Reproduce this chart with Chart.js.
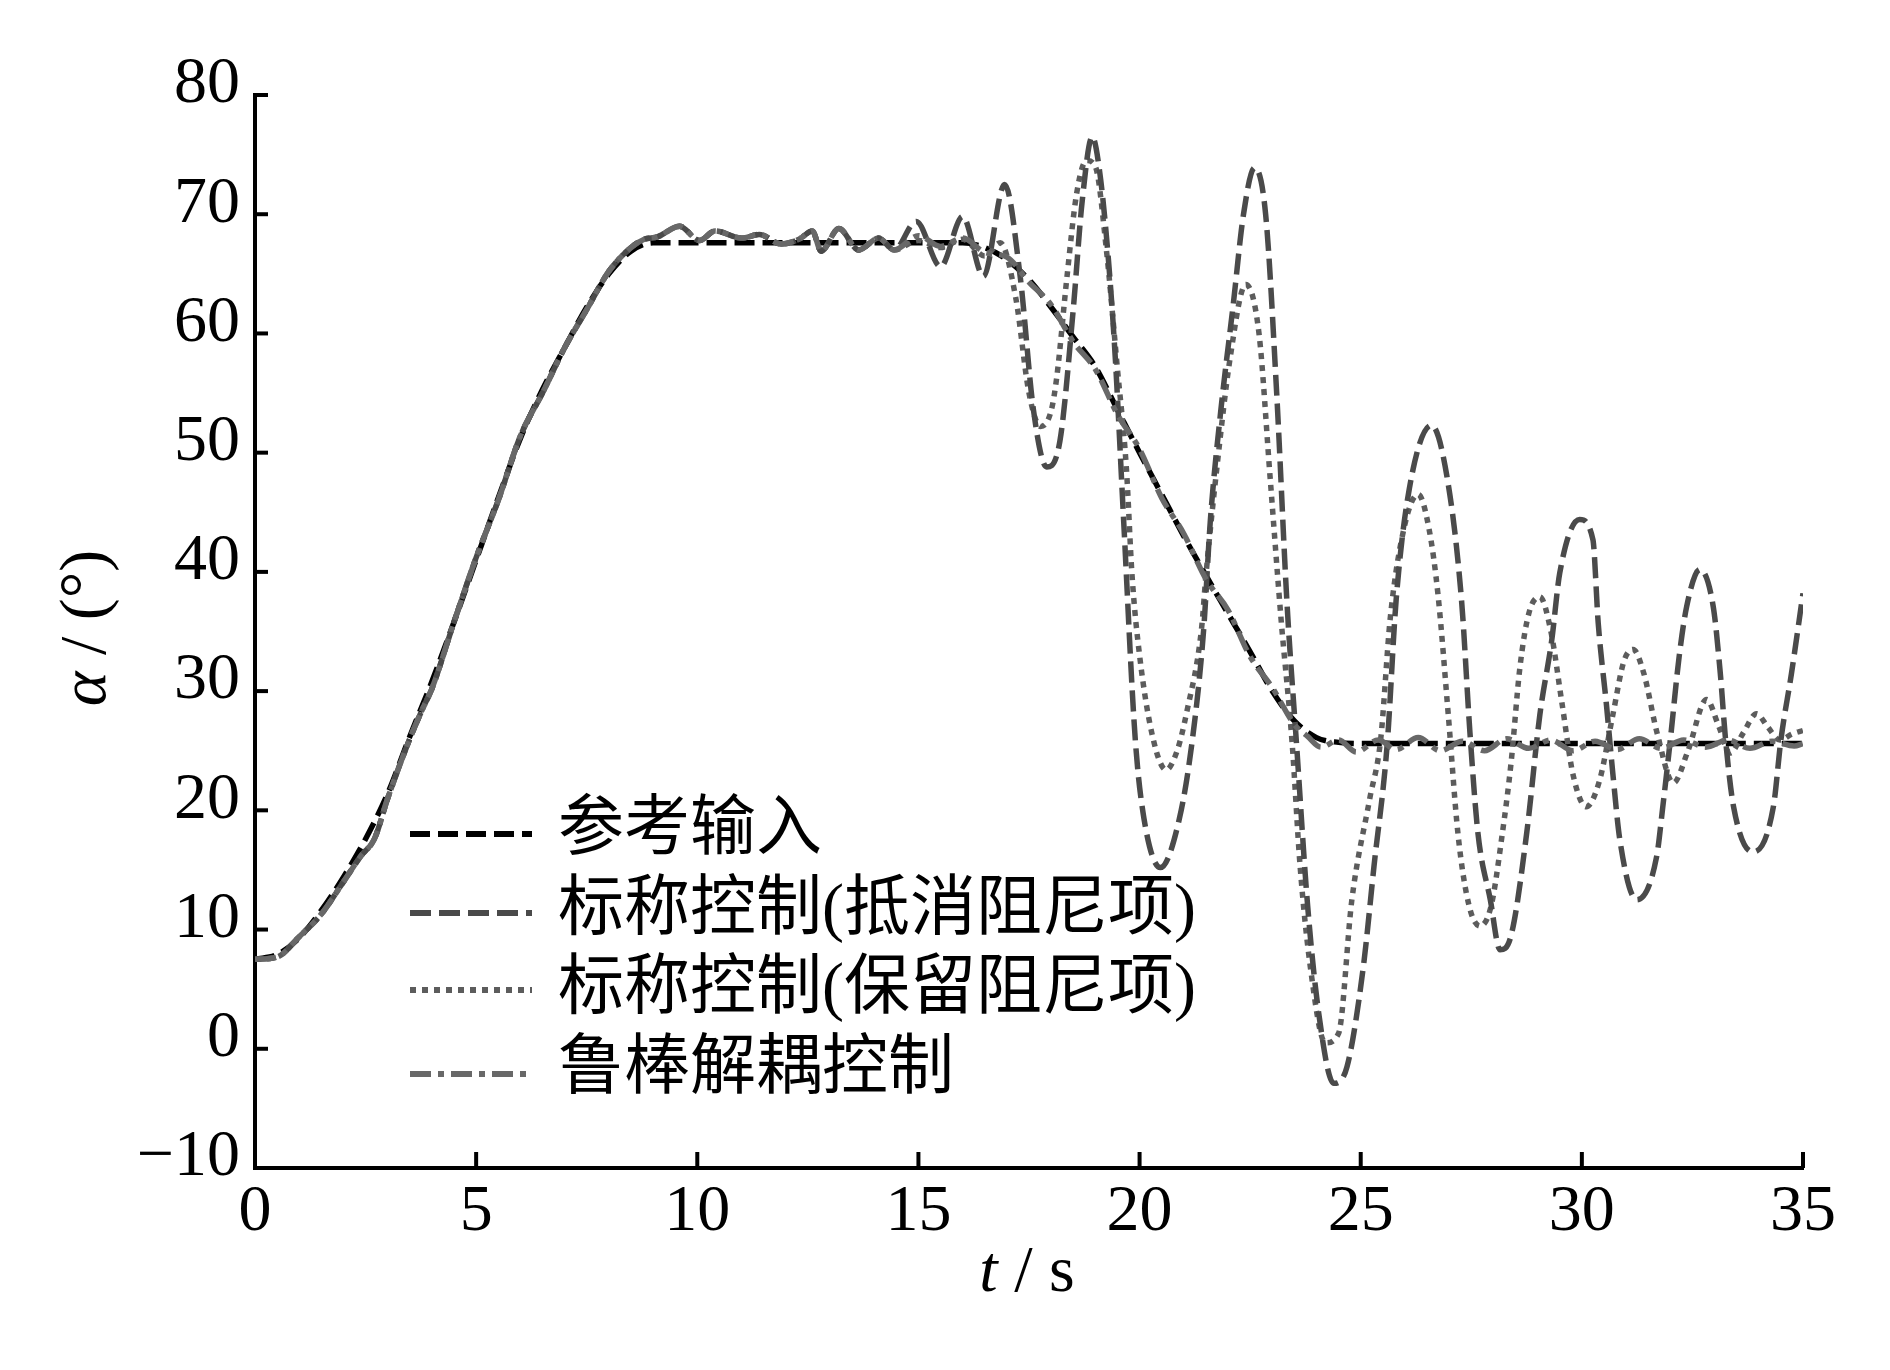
<!DOCTYPE html>
<html>
<head>
<meta charset="utf-8">
<script src="https://cdn.jsdelivr.net/npm/chart.js@4.4.1/dist/chart.umd.min.js"></script>
<style>
  html, body { margin: 0; padding: 0; background: #fff; }
  #wrap { width: 1890px; height: 1370px; }
</style>
</head>
<body>
<div id="wrap"><canvas id="alphaChart" width="1890" height="1370"></canvas></div>
<script>
// --- Data ---
const seriesNames = ['参考输入', '标称控制(抵消阻尼项)', '标称控制(保留阻尼项)', '鲁棒解耦控制'];
const xTickVals = [0, 5, 10, 15, 20, 25, 30, 35];
const yTickVals = [-10, 0, 10, 20, 30, 40, 50, 60, 70, 80];

// reference input
const tRef = [0,0.5,1,1.5,2,2.5,3,3.5,4,4.5,5,5.5,6,6.5,7,7.5,8,8.5,9,16,16.5,17,17.5,18,18.5,19,19.5,20,20.5,21,21.5,22,22.5,23,23.5,24,24.5,25,35];
const refVals = [7.5,7.9,9.3,11.6,14.4,17.6,21.4,26.2,30.8,35.8,41,46.2,51.2,55.3,58.8,62.2,65,66.9,67.6,67.6,67.2,66.2,64.5,62.2,59.7,57.2,53.6,50,46.5,43,39.7,36.5,33.3,30,27.5,26.1,25.7,25.6,25.6];

// the three responses overlap until ~14.5 s
const tShared = [0,0.5,1,1.5,2,2.4,2.7,3,3.5,3.8,4,4.5,5,5.5,6,6.5,7,7.5,8,8.5,8.8,9.1,9.6,10.05,10.4,11,11.4,11.9,12.3,12.6,12.8,13.2,13.65,14.1,14.45];
const sharedVals = [7.5,7.7,9.4,11.3,14,16.2,17.6,21,26,28.6,30.2,35.8,41.2,46,51.4,55,58.8,62,65.2,67.2,67.9,68.1,69,67.8,68.6,68,68.3,67.5,67.9,68.6,66.9,68.8,67,68,67];

// nominal control, damping cancelled
const tCancel = [14.95,15.5,16.0,16.47,16.95,17.3,17.6,17.9,18.2,18.5,18.7,18.93,19.1,19.3,19.45,19.64,19.9,20.1,20.47,20.9,21.2,21.45,21.6,21.83,22.12,22.35,22.6,22.85,23.1,23.33,23.55,23.8,24.05,24.39,24.69,25.06,25.3,25.6,25.8,26.1,26.6,26.95,27.28,27.47,27.65,27.93,28.15,28.4,28.75,29.05,29.32,29.5,29.95,30.25,30.37,30.56,30.7,30.86,31.24,31.69,31.83,32.0,32.2,32.37,32.67,32.97,33.13,33.25,33.43,33.87,34.33,34.5,34.74,35];
const cancelVals = [69.4,65.6,69.8,64.8,72.5,64.8,53.6,48.8,51,62,71,76.5,73.5,66,58,44.3,26.1,19.3,15.2,19.3,26.1,35.2,44.3,53.3,62.5,70,73.9,70,55,37.6,25.5,12,3,-2.9,-1.5,6.9,15.3,25.6,37.6,47,52.3,48,37.6,26.5,18.1,12.5,8.3,9.5,18,28,34.3,39.9,44.4,42.7,35.7,28.7,23.1,17.5,12.5,16.1,20.3,25.9,32.9,37.1,40.2,37.1,31.5,25.9,20.3,16.5,20.3,25.9,31.5,38.2];

// nominal control, damping kept
const tKeep = [15.0,15.5,16.0,16.5,16.85,17.2,17.5,17.76,18.0,18.13,18.36,18.58,18.8,19.0,19.25,19.5,19.7,19.83,20.0,20.3,20.6,20.85,21.07,21.4,21.5,21.75,22.05,22.4,22.7,22.95,23.2,23.45,23.63,23.86,24.2,24.5,24.8,25.2,25.45,25.67,26.0,26.3,26.55,26.75,26.98,27.2,27.45,27.7,27.95,28.2,28.4,28.6,28.8,29.05,29.3,29.55,29.8,30.1,30.4,30.7,30.95,31.16,31.4,31.7,32.07,32.4,32.82,33.1,33.35,33.65,33.95,34.2,34.48,34.75,35];
const keepVals = [67.8,67.2,67.9,66.5,67.6,63,55,52.2,53.5,56.4,64.8,71.8,74.5,74,67,57,48.8,39.7,33,26.1,23.4,25,28.3,35.2,39.7,48.8,58,64.1,60,48,36,25.6,15.3,6.9,0.5,1.3,12.5,20.9,25.9,36.2,44,46.5,43.5,38,28,18,12,10.3,12,18,24,32,36.5,37.9,35,29,23,20.3,22.5,28,32.5,33.5,31.5,26.5,22.3,25,29.3,27,24.8,26.5,28.1,27,25.9,26.4,26.7];

// robust decoupling control
const tRobust = [15.0,15.5,16.0,16.5,17.0,17.5,18.0,18.5,19.0,19.5,20.0,20.5,21.0,21.5,22.0,22.5,23.0,23.5,23.8,24.1,24.5,24.9,25.4,25.8,26.3,26.8,27.3,27.8,28.3,28.8,29.3,29.8,30.3,30.8,31.3,31.8,32.3,32.8,33.3,33.8,34.3,34.8,35];
const robustVals = [68.2,67.3,68.0,66.8,66.4,64.3,62.4,59.3,57.0,53.2,50.3,46.2,43.2,39.4,36.8,32.9,30.3,27.2,26.2,25.3,25.9,24.9,25.9,25.1,26.1,25.0,25.8,25.0,26.0,25.2,25.9,25.0,25.8,25.1,26.0,25.2,25.9,25.3,25.9,25.2,25.8,25.4,25.6];

// --- Helpers ---
const SERIF = "'Liberation Serif', 'Times New Roman', serif";
const CJK = "'Liberation Serif', 'Noto Sans CJK SC', sans-serif";

function pts(ts, vs) {
    return ts.map((t, i) => ({ x: t, y: vs[i] }));
}

const styles = [
    { color: '#000000', dash: [20, 8] },
    { color: '#4a4a4a', dash: [21, 8] },
    { color: '#5c5c5c', dash: [6, 6] },
    { color: '#686868', dash: [21, 7, 6, 7] }
];

// inward tick marks
const innerTicks = {
    id: 'innerTicks',
    afterDraw(chart) {
        const { ctx, chartArea, scales } = chart;
        ctx.save();
        ctx.strokeStyle = '#000';
        ctx.lineWidth = 4;
        xTickVals.forEach(v => {
            const x = scales.x.getPixelForValue(v);
            ctx.beginPath();
            ctx.moveTo(x, chartArea.bottom);
            ctx.lineTo(x, chartArea.bottom - 16);
            ctx.stroke();
        });
        yTickVals.forEach(v => {
            const y = scales.y.getPixelForValue(v);
            ctx.beginPath();
            ctx.moveTo(chartArea.left, y);
            ctx.lineTo(chartArea.left + 13, y);
            ctx.stroke();
        });
        ctx.restore();
    }
};

// legend drawn inside the plot
const insideLegend = {
    id: 'insideLegend',
    afterDraw(chart) {
        const ctx = chart.ctx;
        const rows = [834, 913, 990, 1074];
        const textRows = [832, 912, 991, 1071];
        ctx.save();
        seriesNames.forEach((name, i) => {
            ctx.strokeStyle = styles[i].color;
            ctx.lineWidth = 6;
            ctx.setLineDash(styles[i].dash);
            ctx.beginPath();
            ctx.moveTo(410, rows[i]);
            ctx.lineTo(532, rows[i]);
            ctx.stroke();
            ctx.setLineDash([]);
            ctx.fillStyle = '#000';
            ctx.font = '66px ' + CJK;
            ctx.textBaseline = 'middle';
            ctx.textAlign = 'left';
            ctx.fillText(name, 558, textRows[i]);
        });
        ctx.restore();
    }
};

// axis titles with italic symbols
function drawRich(ctx, parts, cx, cy) {
    let total = 0;
    parts.forEach(p => { ctx.font = p.font; p.w = ctx.measureText(p.text).width; total += p.w; });
    let x = cx - total / 2;
    parts.forEach(p => {
        ctx.font = p.font;
        ctx.fillText(p.text, x, cy);
        x += p.w;
    });
}

const axisTitles = {
    id: 'axisTitles',
    afterDraw(chart) {
        const ctx = chart.ctx;
        ctx.save();
        ctx.fillStyle = '#000';
        ctx.textBaseline = 'middle';
        ctx.textAlign = 'left';
        drawRich(ctx, [
            { text: 't', font: 'italic 66px ' + SERIF },
            { text: ' / s', font: '66px ' + SERIF }
        ], 1027, 1274);
        ctx.translate(88, 628);
        ctx.rotate(-Math.PI / 2);
        drawRich(ctx, [
            { text: 'α', font: 'italic 66px ' + SERIF },
            { text: ' / (°)', font: '66px ' + SERIF }
        ], 0, 0);
        ctx.restore();
    }
};

const tickFont = { family: SERIF, size: 66 };

new Chart(document.getElementById('alphaChart'), {
    type: 'line',
    data: {
        datasets: [
            { label: seriesNames[0], data: pts(tRef, refVals), borderColor: styles[0].color, borderDash: styles[0].dash, order: 4 },
            { label: seriesNames[1], data: pts(tShared.concat(tCancel), sharedVals.concat(cancelVals)), borderColor: styles[1].color, borderDash: styles[1].dash, order: 2 },
            { label: seriesNames[2], data: pts(tShared.concat(tKeep), sharedVals.concat(keepVals)), borderColor: styles[2].color, borderDash: styles[2].dash, order: 3 },
            { label: seriesNames[3], data: pts(tShared.concat(tRobust), sharedVals.concat(robustVals)), borderColor: styles[3].color, borderDash: styles[3].dash, order: 1 }
        ]
    },
    options: {
        responsive: false,
        animation: false,
        layout: { padding: { left: 0, right: 87, top: 95, bottom: 0 } },
        plugins: { legend: { display: false }, tooltip: { enabled: false } },
        elements: {
            point: { radius: 0 },
            line: { borderWidth: 5.5, cubicInterpolationMode: 'monotone', fill: false, borderCapStyle: 'butt' }
        },
        scales: {
            x: {
                type: 'linear', min: 0, max: 35,
                afterBuildTicks: s => { s.ticks = xTickVals.map(v => ({ value: v })); },
                afterFit: s => { s.height = 202; },
                grid: { display: false, drawTicks: false },
                border: { display: true, color: '#000', width: 4 },
                ticks: { font: tickFont, color: '#000', padding: 5, maxRotation: 0, autoSkip: false }
            },
            y: {
                type: 'linear', min: -10, max: 80,
                afterBuildTicks: s => { s.ticks = yTickVals.map(v => ({ value: v })); },
                afterFit: s => { s.width = 255; },
                grid: { display: false, drawTicks: false },
                border: { display: true, color: '#000', width: 4 },
                ticks: {
                    font: tickFont, color: '#000', padding: 15, labelOffset: -10, autoSkip: false,
                    callback: v => v < 0 ? '\u2212' + Math.abs(v) : String(v)
                }
            }
        }
    },
    plugins: [innerTicks, insideLegend, axisTitles]
});
</script>
</body>
</html>
